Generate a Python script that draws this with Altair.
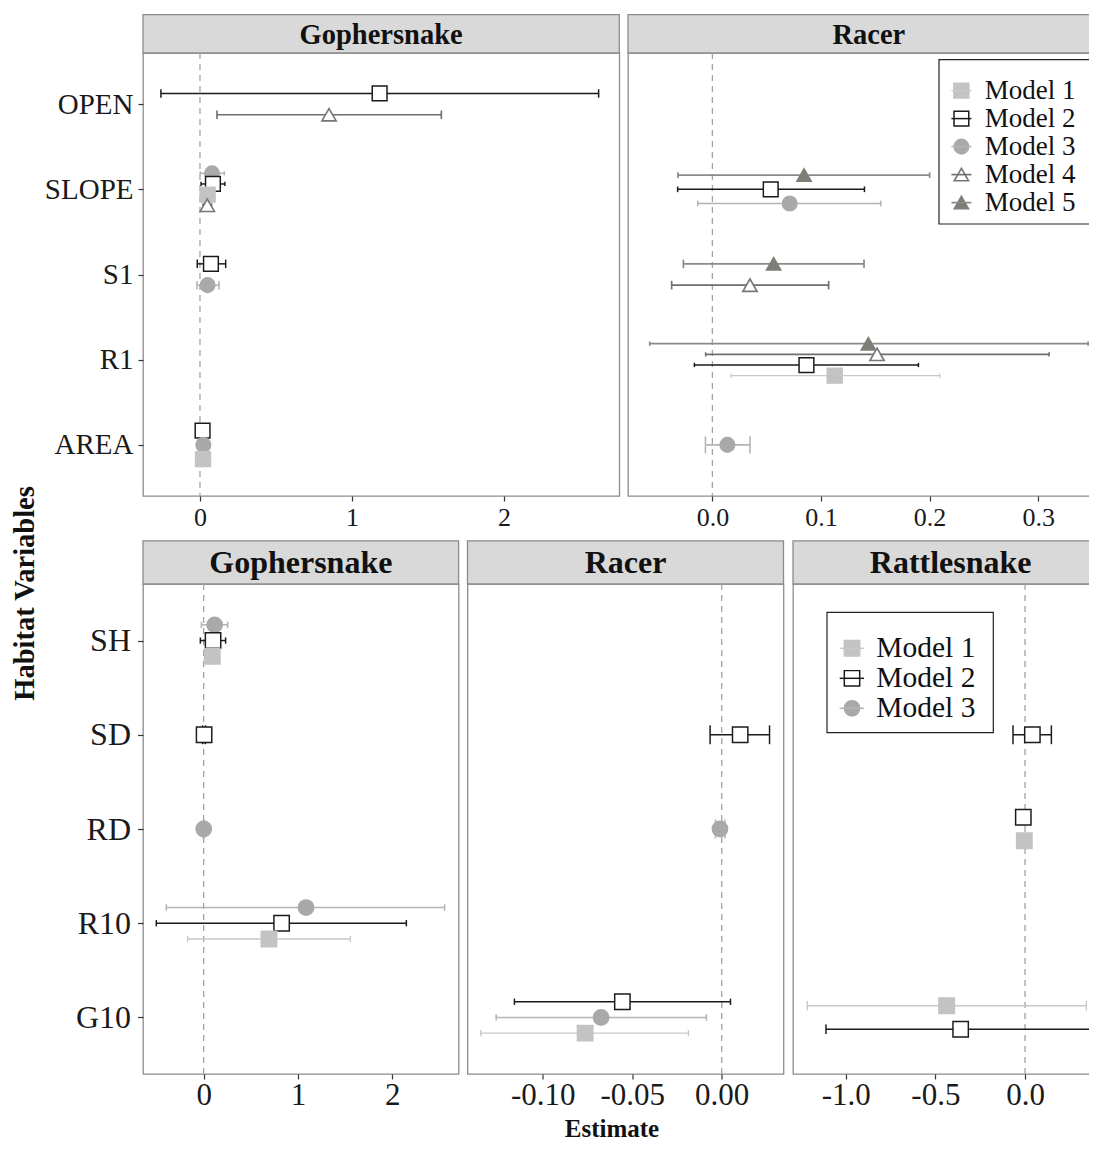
import altair as alt
import pandas as pd

SERIF = "Liberation Serif"
INK = "#111111"
BORDER = "#8c8c8c"

# ---- model styling -------------------------------------------------------
MODELS = ["Model 1", "Model 2", "Model 3", "Model 4", "Model 5"]
SHAPES = ["square", "square", "circle", "triangle-up", "triangle-up"]
FILLS = ["#c3c3c3", "#ffffff", "#a9a9a9", "#ffffff", "#7d7f77"]
STROKES = ["#c3c3c3", "#1a1a1a", "#a9a9a9", "#767676", "#7d7f77"]
ERR_COLORS = ["#c8c8c8", "#1a1a1a", "#b3b3b3", "#6e6e6e", "#8a8a8a"]
LINE_WIDTHS = [1.4, 1.7, 1.4, 1.4, 1.4]
SIZES_TOP = [225, 196, 110, 400, 330]
SIZES_BOTTOM = [240, 225, 121, 400, 330]

TOP_VARS = ["OPEN", "SLOPE", "S1", "R1", "AREA"]
BOTTOM_VARS = ["SH", "SD", "RD", "R10", "G10"]

# ---- data (rows listed top-to-bottom inside each variable) ---------------
# Top row: Gophersnake
TG_VAR = ["OPEN", "OPEN", "SLOPE", "SLOPE", "SLOPE", "SLOPE", "S1", "S1", "AREA", "AREA", "AREA"]
TG_MODEL = [2, 4, 3, 2, 1, 4, 2, 3, 2, 3, 1]
TG_EST = [1.182, 0.849, 0.079, 0.085, 0.050, 0.048, 0.072, 0.050, 0.017, 0.022, 0.020]
TG_LO = [-0.257, 0.112, 0.002, 0.007, 0.015, 0.020, -0.018, -0.020, 0.003, 0.012, 0.010]
TG_HI = [2.623, 1.588, 0.160, 0.164, 0.085, 0.076, 0.169, 0.125, 0.031, 0.032, 0.030]

# Top row: Racer
TR_VAR = ["SLOPE", "SLOPE", "SLOPE", "S1", "S1", "R1", "R1", "R1", "R1", "AREA"]
TR_MODEL = [5, 2, 3, 5, 4, 5, 4, 2, 1, 3]
TR_EST = [0.0844, 0.0537, 0.0712, 0.0564, 0.0346, 0.1436, 0.1516, 0.0866, 0.1126, 0.0138]
TR_LO = [-0.0317, -0.0320, -0.0135, -0.0267, -0.0375, -0.0577, -0.0062, -0.0166, 0.0172, -0.0064]
TR_HI = [0.2000, 0.1400, 0.1550, 0.1396, 0.1070, 0.3459, 0.3100, 0.1897, 0.2093, 0.0346]

# Bottom row: Gophersnake
BG_VAR = ["SH", "SH", "SH", "SD", "RD", "R10", "R10", "R10"]
BG_MODEL = [3, 2, 1, 2, 3, 3, 2, 1]
BG_EST = [0.117, 0.100, 0.092, 0.005, 0.001, 1.086, 0.827, 0.693]
BG_LO = [-0.024, -0.035, 0.030, -0.010, -0.005, -0.396, -0.502, -0.170]
BG_HI = [0.255, 0.233, 0.155, 0.020, 0.007, 2.556, 2.150, 1.556]

# Bottom row: Racer
BR_VAR = ["SD", "RD", "G10", "G10", "G10"]
BR_MODEL = [2, 3, 2, 3, 1]
BR_EST = [0.0103, -0.0010, -0.0555, -0.0674, -0.0763]
BR_LO = [-0.0065, -0.0035, -0.1158, -0.1260, -0.1346]
BR_HI = [0.0267, 0.0018, 0.0049, -0.0086, -0.0186]

# Bottom row: Rattlesnake
BT_VAR = ["SD", "RD", "RD", "G10", "G10"]
BT_MODEL = [2, 2, 1, 1, 2]
BT_EST = [0.041, -0.0095, -0.004, -0.437, -0.359]
BT_LO = [-0.067, -0.039, -0.020, -1.214, -1.110]
BT_HI = [0.147, 0.021, 0.012, 0.342, 0.390]

DODGE = 0.5   # dodge width (category units)
CAP = 0.2     # error-bar cap width (category units, before dodging)


def make_df(var_names, variables, models, est, lo, hi):
    df = pd.DataFrame(dict(variable=variables, model=[f"Model {m}" for m in models],
                           est=est, lo=lo, hi=hi))
    df["vi"] = df["variable"].map({v: i for i, v in enumerate(var_names)})
    df["n"] = df.groupby("variable")["variable"].transform("size")
    df["k"] = df.groupby("variable").cumcount()
    df["pos"] = df["vi"] + (df["k"] - (df["n"] - 1) / 2) * DODGE / df["n"]
    df["cap_lo"] = df["pos"] - CAP / 2 / df["n"]
    df["cap_hi"] = df["pos"] + CAP / 2 / df["n"]
    return df


def enc_shape():
    return alt.Shape("model:N", scale=alt.Scale(domain=MODELS, range=SHAPES), legend=None)


def enc_fill():
    return alt.Fill("model:N", scale=alt.Scale(domain=MODELS, range=FILLS), legend=None)


def enc_stroke():
    return alt.Stroke("model:N", scale=alt.Scale(domain=MODELS, range=STROKES), legend=None)


def enc_color():
    return alt.Color("model:N", scale=alt.Scale(domain=MODELS, range=ERR_COLORS), legend=None)


def enc_width():
    return alt.StrokeWidth("model:O", scale=alt.Scale(domain=MODELS, range=LINE_WIDTHS), legend=None)


def enc_size(sizes):
    return alt.Size("model:O", scale=alt.Scale(domain=MODELS, range=sizes), legend=None)


def panel(df, var_names, species, width, height, strip_h, strip_fs, xdomain, xticks, xfmt,
          sizes, xfs, yfs=None, y_extent=None, y_tick=5, y_pad=5, x_extent=34, x_pad=3,
          legend=None, xtitle=None):
    xs = alt.Scale(domain=xdomain, nice=False, zero=False)
    ys = alt.Scale(domain=[-0.6, len(var_names) - 0.4], reverse=True, nice=False, zero=False)
    xkw = dict(values=xticks,
               labelExpr="replace(format(datum.value, '%s'), '\u2212', '-')" % xfmt,
               grid=False, domain=False, tickSize=5, tickWidth=1.2, tickColor="#333333",
               labelFont=SERIF, labelFontSize=xfs, labelColor="#1a1a1a", labelPadding=x_pad,
               minExtent=x_extent, maxExtent=x_extent, title=None)
    if xtitle:
        xkw.update(xtitle)
    xaxis = alt.Axis(**xkw)
    if y_extent is not None:
        names = "[" + ",".join("'%s'" % v for v in var_names) + "]"
        yaxis = alt.Axis(values=list(range(len(var_names))), labelExpr=names + "[datum.value]",
                         grid=False, domain=False, tickSize=y_tick, tickWidth=1.2,
                         tickColor="#333333", labelFont=SERIF, labelFontSize=yfs,
                         labelColor="#1a1a1a", labelPadding=y_pad,
                         minExtent=y_extent, maxExtent=y_extent, title=None)
    else:
        yaxis = None

    caps = pd.concat([df.assign(end=df["lo"]), df.assign(end=df["hi"])], ignore_index=True)
    strip_df = pd.DataFrame({"species": [species]})

    strip = alt.Chart(strip_df).mark_rect(fill="#d9d9d9", stroke=BORDER, strokeWidth=1.3).encode(
        x=alt.value(0), x2=alt.value(width), y=alt.value(-strip_h), y2=alt.value(0))
    strip_txt = alt.Chart(strip_df).mark_text(
        font=SERIF, fontWeight="bold", fontSize=strip_fs, color=INK, baseline="middle",
        dy=1).encode(x=alt.value(width / 2), y=alt.value(-strip_h / 2), text="species:N")
    zero = alt.Chart(pd.DataFrame({"zero": [0.0]})).mark_rule(
        strokeDash=[6, 5], color="#a3a3a3", strokeWidth=1.3).encode(
        x=alt.X("zero:Q", scale=xs, axis=xaxis))
    bars = alt.Chart(df).mark_rule().encode(
        x=alt.X("lo:Q", scale=xs, axis=xaxis), x2="hi:Q",
        y=alt.Y("pos:Q", scale=ys, axis=None),
        color=enc_color(), strokeWidth=enc_width())
    capm = alt.Chart(caps).mark_rule().encode(
        x=alt.X("end:Q", scale=xs, axis=xaxis),
        y=alt.Y("cap_lo:Q", scale=ys, axis=None), y2="cap_hi:Q",
        color=enc_color(), strokeWidth=enc_width())
    pts = alt.Chart(df).mark_point(opacity=1).encode(
        x=alt.X("est:Q", scale=xs, axis=xaxis),
        y=alt.Y("pos:Q", scale=ys, axis=yaxis),
        shape=enc_shape(), fill=enc_fill(), stroke=enc_stroke(),
        size=enc_size(sizes), strokeWidth=enc_width())
    layers = [strip, strip_txt, zero, bars, capm, pts]

    if legend:
        lm = legend["models"]
        ldf = pd.DataFrame({"model": lm})
        ly = alt.Y("model:N", scale=alt.Scale(type="point", domain=lm,
                                              range=list(legend["rows"]), padding=0), axis=None)
        bx0, bx1, by0, by1 = legend["box"]
        box = alt.Chart(pd.DataFrame({"k": [0]})).mark_rect(
            fill="white", stroke="#222222", strokeWidth=1.2).encode(
            x=alt.value(bx0), x2=alt.value(bx1), y=alt.value(by0), y2=alt.value(by1))
        lpts = alt.Chart(ldf).mark_point(opacity=1).encode(
            x=alt.value(legend["sym"]), y=ly, shape=enc_shape(), fill=enc_fill(),
            stroke=enc_stroke(), size=enc_size(sizes), strokeWidth=enc_width())
        lline = alt.Chart(ldf).mark_rule().encode(
            x=alt.value(legend["line"][0]), x2=alt.value(legend["line"][1]), y=ly,
            color=enc_color(), strokeWidth=enc_width())
        ltxt = alt.Chart(ldf).mark_text(
            align="left", baseline="middle", font=SERIF, fontSize=legend["fs"], color=INK).encode(
            x=alt.value(legend["text"]), y=ly, text="model:N")
        layers += [box, lpts, lline, ltxt]

    return alt.layer(*layers).resolve_scale(y="independent").properties(width=width, height=height)


tg = panel(make_df(TOP_VARS, TG_VAR, TG_MODEL, TG_EST, TG_LO, TG_HI), TOP_VARS, "Gophersnake",
           476.3, 443, 38.4, 28.5, [-0.375, 2.759], [0, 1, 2], "d", SIZES_TOP, 26, yfs=29,
           y_extent=99.8, y_tick=5, y_pad=5, x_extent=34, x_pad=3)
tr = panel(make_df(TOP_VARS, TR_VAR, TR_MODEL, TR_EST, TR_LO, TR_HI), TOP_VARS, "Racer",
           481.7, 443, 38.4, 28.5, [-0.0777, 0.3658], [0.0, 0.1, 0.2, 0.3], ".1f", SIZES_TOP, 26,
           x_extent=34, x_pad=3,
           legend=dict(models=MODELS, box=(311, 461.7, 6.6, 171), rows=(37.6, 149.6),
                       line=(323.4, 343.4), sym=333.4, text=356.7, fs=27))
bg = panel(make_df(BOTTOM_VARS, BG_VAR, BG_MODEL, BG_EST, BG_LO, BG_HI), BOTTOM_VARS, "Gophersnake",
           315.6, 490, 43.2, 32, [-0.643, 2.704], [0, 1, 2], "d", SIZES_BOTTOM, 31, yfs=32,
           y_extent=103.2, y_tick=5.5, y_pad=7, x_extent=40, x_pad=1)
br = panel(make_df(BOTTOM_VARS, BR_VAR, BR_MODEL, BR_EST, BR_LO, BR_HI), BOTTOM_VARS, "Racer",
           316, 490, 43.2, 32, [-0.142, 0.0345], [-0.10, -0.05, 0.0], ".2f", SIZES_BOTTOM, 31,
           x_extent=40, x_pad=1,
           xtitle=dict(title="Estimate", titleFont=SERIF, titleFontSize=25, titleFontWeight="bold",
                       titleColor=INK, titleX=144, titleY=54, titleBaseline="middle",
                       titleAlign="center"))
bt = panel(make_df(BOTTOM_VARS, BT_VAR, BT_MODEL, BT_EST, BT_LO, BT_HI), BOTTOM_VARS, "Rattlesnake",
           315.3, 490, 43.2, 32, [-1.294, 0.4645], [-1.0, -0.5, 0.0], ".1f", SIZES_BOTTOM, 31,
           x_extent=40, x_pad=1,
           legend=dict(models=MODELS[:3], box=(34, 200.3, 28.3, 148.7), rows=(64.3, 124.3),
                       line=(46.7, 71), sym=59, text=83.3, fs=29.5))

top = alt.hconcat(tg, tr, spacing=5).resolve_scale(x="independent", y="independent")
bottom = alt.hconcat(bg, br, bt, spacing=5.5).resolve_scale(x="independent", y="independent")

chart = alt.vconcat(top, bottom, spacing=8).resolve_scale(
    x="independent", y="independent", size="independent").properties(
    title=alt.TitleParams(text="Habitat Variables", orient="left", anchor="middle", font=SERIF,
                          fontSize=28.5, fontWeight="bold", color=INK, offset=0, dx=-16),
    # the right-hand panels run past the page edge, as in the cropped original
    padding={"left": 2, "top": 5, "right": -22, "bottom": 0},
).configure(font=SERIF, background="white").configure_view(stroke=BORDER, strokeWidth=1.3)

chart.save("out.html", embed_options={"renderer": "svg", "actions": False})
